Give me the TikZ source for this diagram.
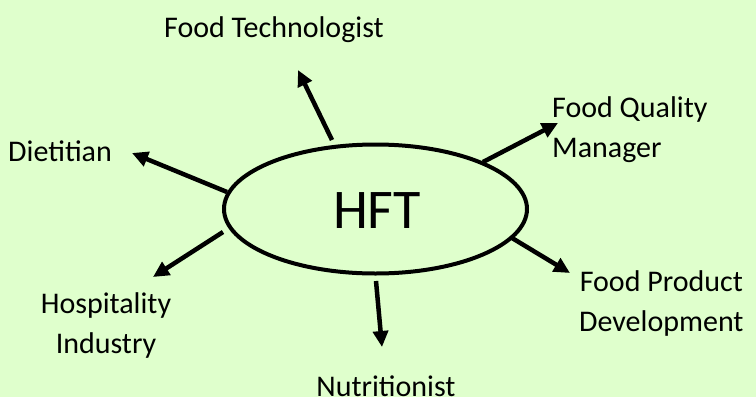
\documentclass[tikz,border=0pt]{standalone}
\usepackage{fontspec}
\setmainfont{Carlito}
\usetikzlibrary{arrows.meta,shapes.geometric}
\definecolor{bg}{RGB}{223,255,204}
\tikzset{
  hub/.style={ellipse, draw=black, line width=4pt, fill=bg, minimum width=303pt, minimum height=129pt, inner sep=0pt},
  lbl/.style={inner sep=0pt, font=\fontsize{30}{40}\selectfont, text=black},
  arr/.style={line width=4.5pt, -{Triangle[length=16pt,width=15pt]}}
}
\begin{document}
\begin{tikzpicture}[x=1pt,y=-1pt]
\fill[bg] (0,0) rectangle (756,397);
\useasboundingbox (0,0) rectangle (756,397);
\node[hub] (hft) at (375.5,209) {};
\node[inner sep=0pt, font=\fontsize{56}{60}\selectfont] (hftt) at (377,210.5) {HFT};
% labels
\node[lbl, anchor=base] (ft) at (274,37) {Food Technologist};
\node[lbl, anchor=base west] (fq) at (552,117) {\begin{tabular}[t]{@{}l@{}}Food Quality\\Manager\end{tabular}};
\node[lbl, anchor=base west] (di) at (8,161) {Dietitian};
\node[lbl, anchor=base] (ho) at (106,313) {\begin{tabular}[t]{@{}c@{}}Hospitality\\Industry\end{tabular}};
\node[lbl, anchor=base west] (fp) at (579,291) {\begin{tabular}[t]{@{}c@{}}Food Product\\Development\end{tabular}};
\node[lbl, anchor=base] (nu) at (386,396) {Nutritionist};
% arrow ends
\coordinate (s1) at (332,140); \coordinate (t1) at (298,70);
\coordinate (s2) at (483,162); \coordinate (t2) at (558,123);
\coordinate (s3) at (227,192); \coordinate (t3) at (132,153);
\coordinate (s4) at (223,232); \coordinate (t4) at (153,277);
\coordinate (s5) at (376,281); \coordinate (t5) at (382,347);
\coordinate (s6) at (512,238); \coordinate (t6) at (570,273);
\draw[arr] (s1) -- (t1);
\draw[arr] (s2) -- (t2);
\draw[arr] (s3) -- (t3);
\draw[arr] (s4) -- (t4);
\draw[arr] (s5) -- (t5);
\draw[arr] (s6) -- (t6);
\end{tikzpicture}
\end{document}
